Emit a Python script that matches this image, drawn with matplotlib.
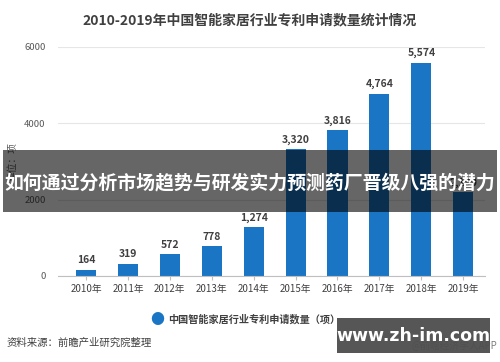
import matplotlib
matplotlib.use("Agg")
import matplotlib.pyplot as plt
from matplotlib.patches import Rectangle

plt.rcParams['font.family'] = ['Noto Sans CJK SC', 'DejaVu Sans']

# data
years = ['2010年', '2011年', '2012年', '2013年', '2014年',
         '2015年', '2016年', '2017年', '2018年', '2019年']
patents = [164, 319, 572, 778, 1274, 3320, 3816, 4764, 5574, 2190]
yticks = [0, 2000, 4000, 6000]

title = '2010-2019年中国智能家居行业专利申请数量统计情况'
legend_label = '中国智能家居行业专利申请数量（项）'
source = '资料来源：前瞻产业研究院整理'
banner = '如何通过分析市场趋势与研发实力预测药厂晋级八强的潜力'

bar_color = '#1a76c4'

fig = plt.figure(figsize=(5, 3.62), dpi=100)
ax = fig.add_axes([0.116, 0.2376, 0.854, 0.6334])

x = range(len(years))
bars = ax.bar(x, patents, width=0.48, color=bar_color, zorder=2)
for xi, v in zip(x, patents):
    ax.text(xi, v + 120, f'{v:,}', ha='center', va='bottom',
            fontsize=7.5, fontweight='bold', color='#404040')

ax.set_xlim(-0.67, 9.52)
ax.set_ylim(0, 6000)
ax.set_yticks(yticks)
ax.set_yticklabels([str(t) for t in yticks], fontsize=6.8, color='#595959')
ax.set_xticks(list(x))
ax.set_xticklabels(years, fontsize=7, color='#404040')
ax.tick_params(axis='y', length=0, pad=9)
ax.tick_params(axis='x', length=3, color='#bfbfbf', pad=3)
ax.grid(axis='y', color='#e6e6e6', linewidth=0.8, zorder=0)
for s in ['top', 'right', 'left']:
    ax.spines[s].set_visible(False)
ax.spines['bottom'].set_color('#bfbfbf')
ax.set_ylabel('单位：项', fontsize=7, color='#595959', labelpad=5)

fig.text(0.5, 0.945, title, ha='center', va='center',
         fontsize=10, fontweight='bold', color='#404040')

# legend
fig.text(0.314, 0.117, '●', ha='center', va='center', fontsize=10, color=bar_color)
fig.text(0.336, 0.117, legend_label, ha='left', va='center',
         fontsize=7.3, fontweight='bold', color='#404040')

fig.text(0.014, 0.052, source, ha='left', va='center', fontsize=7.5, color='#404040')
fig.text(0.995, 0.045, '@前瞻经济学人APP', ha='right', va='center',
         fontsize=7, color='#7f7f7f')

# overlay banner across the middle
fig.patches.append(Rectangle((0.006, 1 - 212 / 362), 0.988, 62 / 362,
                             transform=fig.transFigure, facecolor='black',
                             alpha=0.6, zorder=5))
fig.text(0.5, 1 - 183 / 362, banner, ha='center', va='center', fontsize=13.6,
         fontweight='bold', color='white', zorder=6)

# site watermark box
fig.patches.append(Rectangle((0.674, 1 - 353 / 362), 0.306, 35 / 362,
                             transform=fig.transFigure, facecolor='#4d4d4d',
                             alpha=0.95, zorder=5))
fig.text(0.827, 1 - 336 / 362, 'www.zh-im.com', ha='center', va='center',
         fontsize=12.5, fontweight='bold', color='white', zorder=6,
         family=['DejaVu Sans'])

fig.savefig('out.png', dpi=100)
